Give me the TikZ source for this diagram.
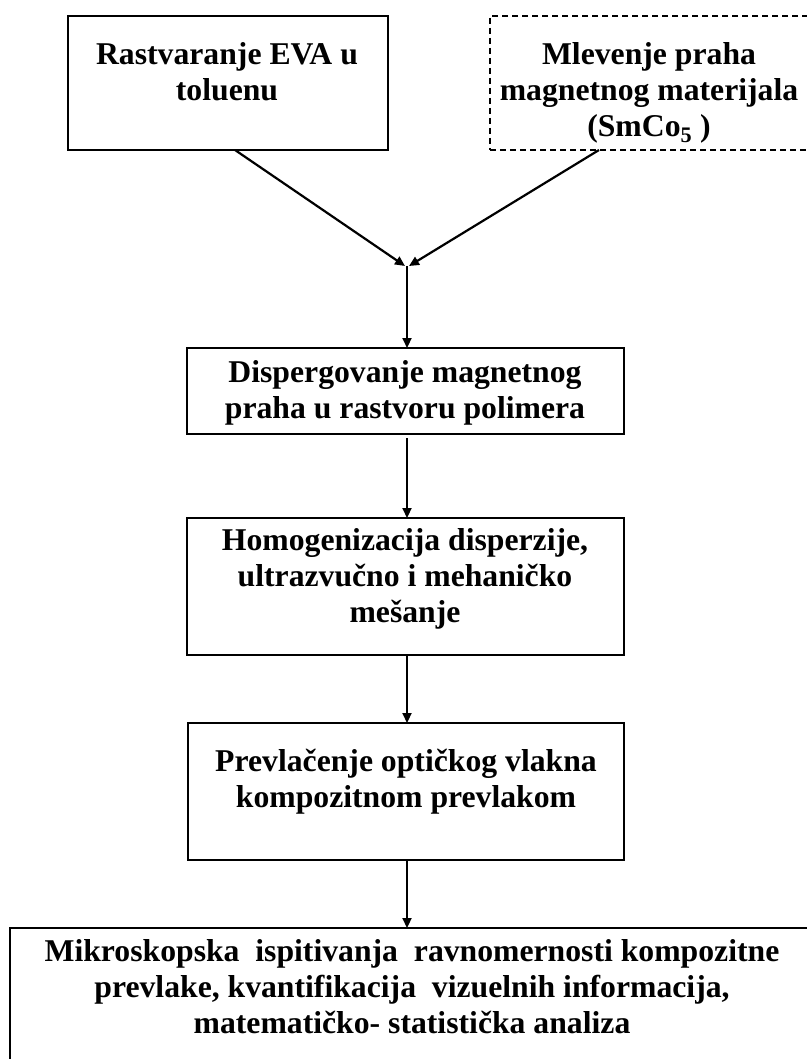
\documentclass[tikz,border=0pt]{standalone}
\usepackage{fontspec}
\setmainfont{Liberation Serif}
\usetikzlibrary{arrows.meta}
\begin{document}
\begin{tikzpicture}[x=1pt,y=-1pt,
  box/.style={draw, line width=2.6pt, rectangle, inner sep=0pt, outer sep=0pt},
  dbox/.style={draw, line width=2pt, dash pattern=on 6pt off 4pt, rectangle, inner sep=0pt, outer sep=0pt},
  txt/.style={anchor=north, align=center, inner sep=0pt,
    font=\fontsize{31.7pt}{36pt}\selectfont\bfseries},
  arr/.style={line width=2.2pt, -{Triangle[length=10pt,width=9pt]}}]
\useasboundingbox (0,0) rectangle (806,1059);
\fill[white] (0,0) rectangle (806,1059);
% boxes
\node[box, minimum width=320pt, minimum height=134pt] (b1) at (228,83) {};
\node[dbox, minimum width=322pt, minimum height=134pt] (b2) at (651,83) {};
\node[box, minimum width=437pt, minimum height=86pt] (b3) at (405.5,391) {};
\node[box, minimum width=437pt, minimum height=137pt] (b4) at (405.5,586.5) {};
\node[box, minimum width=436pt, minimum height=137pt] (b5) at (406,791.5) {};
\node[box, minimum width=804pt, minimum height=142pt] (b6) at (412,999) {};
% texts
\node[txt] (t1) at (227,42) {Rastvaranje EVA u\\toluenu};
\node[txt] (t2) at (649,42) {Mlevenje praha\\magnetnog materijala\\(SmCo\textsubscript{5} )};
\node[txt] (t3) at (405,360) {Dispergovanje magnetnog\\praha u rastvoru polimera};
\node[txt] (t4) at (405,528) {Homogenizacija disperzije,\\ultrazvučno i mehaničko\\mešanje};
\node[txt] (t5) at (406,749) {Prevlačenje optičkog vlakna\\kompozitnom prevlakom};
\node[txt] (t6) at (412,939) {Mikroskopska\ \ ispitivanja\ \ ravnomernosti kompozitne\\prevlake, kvantifikacija\ \ vizuelnih informacija,\\matematičko- statistička analiza};
% junction
\coordinate (j) at (407,266);
\coordinate (jl) at (405,266);
\coordinate (jr) at (409,266);
% connectors
\draw[arr] ([xshift=7pt]b1.south) -- (jl);
\draw[arr] ([xshift=-52pt]b2.south) -- (jr);
\draw[arr] (j) -- (b3.north -| j);
\draw[arr] ([yshift=-4pt]b3.south -| j) -- (b4.north -| j);
\draw[arr] (b4.south -| j) -- (b5.north -| j);
\draw[arr] (b5.south -| j) -- (b6.north -| j);
\end{tikzpicture}
\end{document}
